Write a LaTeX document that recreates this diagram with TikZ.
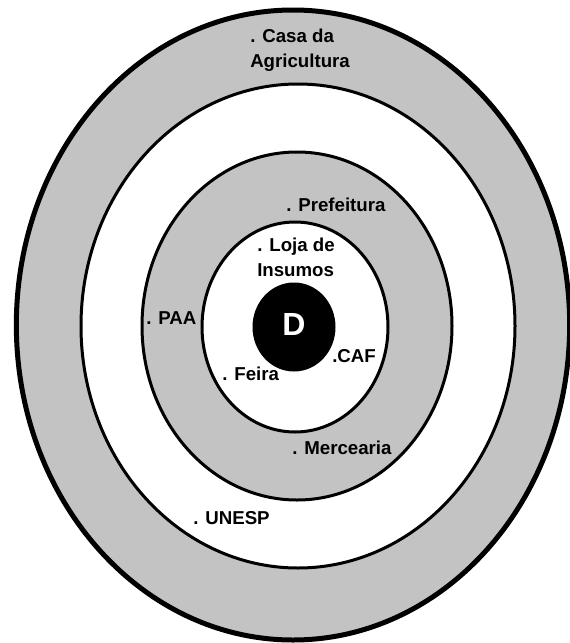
\documentclass[tikz,border=0pt]{standalone}
\usepackage{fontspec}
\setmainfont{Liberation Sans}
\usetikzlibrary{shapes.geometric}
\definecolor{ringgray}{RGB}{195,195,195}
\tikzstyle{ring} = [ellipse, inner sep=0pt, draw=black, line width=2.25pt]
\tikzstyle{actor} = [inner sep=0pt, anchor=west, align=left, font=\bfseries\fontsize{14}{18.5}\selectfont]

\begin{document}
\begin{tikzpicture}[x=0.75pt, y=-0.75pt]
    \useasboundingbox (0,0) rectangle (570,643);

    % Rings
    \node (outer) [ring, fill=ringgray, line width=3.75pt, minimum width=415pt, minimum height=472.5pt] at (293,325) {};
    \node (second) [ring, fill=white, minimum width=325.5pt, minimum height=363pt] at (298,326) {};
    \node (third) [ring, fill=ringgray, minimum width=232.5pt, minimum height=261pt] at (297,326) {};
    \node (inner) [ring, fill=white, minimum width=139.5pt, minimum height=157.5pt] at (295,327) {};
    \node (core) [ring, fill=black, minimum width=60pt, minimum height=64.5pt] at (294,327) {};
    \node (d) [text=white, font=\bfseries\fontsize{24}{28}\selectfont] at (294,324) {D};

    % Labels
    \node (casa) [actor] at (250,50) {. Casa da\\Agricultura};
    \node (prefeitura) [actor] at (286,205) {. Prefeitura};
    \node (loja) [actor] at (257,257) {. Loja de\\Insumos};
    \node (paa) [actor] at (146,318) {. PAA};
    \node (caf) [actor] at (332,356) {.CAF};
    \node (feira) [actor] at (222,374) {. Feira};
    \node (mercearia) [actor] at (292,448) {. Mercearia};
    \node (unesp) [actor] at (193,518) {. UNESP};

\end{tikzpicture}
\end{document}
